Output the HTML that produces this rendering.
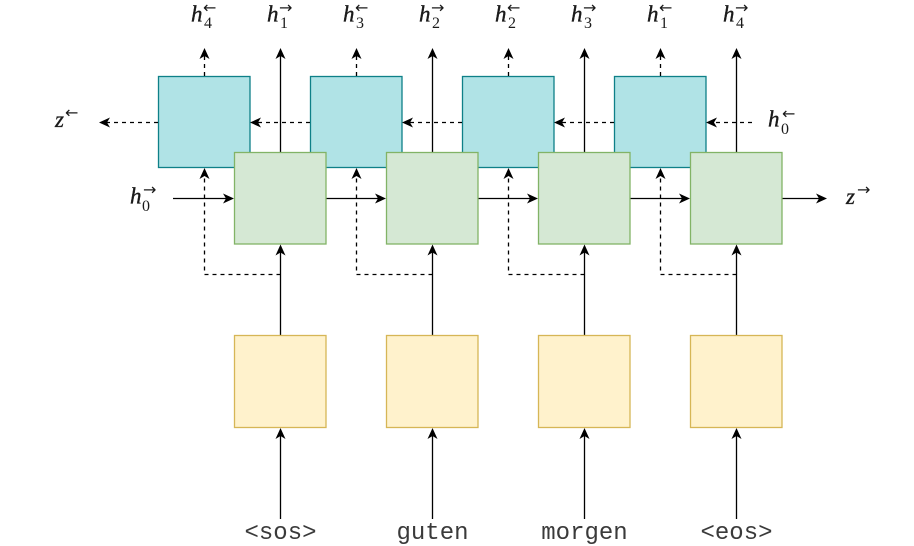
<!DOCTYPE html>
<html>
<head>
<meta charset="utf-8">
<style>
  html, body { margin: 0; padding: 0; background: #ffffff; }
  svg { display: block; }
  .h { font-family: "Liberation Serif", serif; font-style: italic; font-size: 23px; fill: #1a1a1a; stroke: #1a1a1a; stroke-width: 0.35px; }
  .sub { font-family: "Liberation Serif", serif; font-size: 16px; fill: #1a1a1a; }
  .ar { font-family: "DejaVu Sans", sans-serif; font-size: 16px; fill: #1a1a1a; }
  .tok { font-family: "Liberation Mono", monospace; font-size: 24px; fill: #3a3a3a; }
</style>
</head>
<body>
<svg width="914" height="546" viewBox="0 0 914 546" xmlns="http://www.w3.org/2000/svg">
  <!-- Blue boxes -->
  <g fill="#b0e3e6" stroke="#0e8088" stroke-width="1.3">
    <rect x="158.5" y="76.5" width="91.5" height="91"/>
    <rect x="310.5" y="76.5" width="91.5" height="91"/>
    <rect x="462.5" y="76.5" width="91.5" height="91"/>
    <rect x="614.5" y="76.5" width="91.5" height="91"/>
  </g>

  <!-- Blue row dashed horizontal arrows (right to left) -->
  <g stroke="#000" stroke-width="1.3" stroke-dasharray="4 4" fill="none">
    <line x1="158" y1="122.5" x2="107" y2="122.5"/>
    <line x1="310" y1="122.5" x2="258" y2="122.5"/>
    <line x1="462" y1="122.5" x2="410" y2="122.5"/>
    <line x1="614" y1="122.5" x2="562" y2="122.5"/>
    <line x1="752" y1="122.5" x2="714" y2="122.5"/>
  </g>
  <g fill="#000">
    <path d="M99 122.5 L110 117.5 L107 122.5 L110 127.5 Z"/>
    <path d="M250 122.5 L261 117.5 L258 122.5 L261 127.5 Z"/>
    <path d="M402 122.5 L413 117.5 L410 122.5 L413 127.5 Z"/>
    <path d="M554 122.5 L565 117.5 L562 122.5 L565 127.5 Z"/>
    <path d="M706 122.5 L717 117.5 L714 122.5 L717 127.5 Z"/>
  </g>

  <!-- Dashed up arrows from blue tops -->
  <g stroke="#000" stroke-width="1.3" stroke-dasharray="4 4" fill="none">
    <line x1="204.5" y1="76" x2="204.5" y2="56"/>
    <line x1="356.5" y1="76" x2="356.5" y2="56"/>
    <line x1="508.5" y1="76" x2="508.5" y2="56"/>
    <line x1="660.5" y1="76" x2="660.5" y2="56"/>
  </g>
  <g fill="#000">
    <path d="M204.5 48 L199.5 59 L204.5 56 L209.5 59 Z"/>
    <path d="M356.5 48 L351.5 59 L356.5 56 L361.5 59 Z"/>
    <path d="M508.5 48 L503.5 59 L508.5 56 L513.5 59 Z"/>
    <path d="M660.5 48 L655.5 59 L660.5 56 L665.5 59 Z"/>
  </g>

  <!-- Solid up arrows from green tops -->
  <g stroke="#000" stroke-width="1.3" fill="none">
    <line x1="280.5" y1="152" x2="280.5" y2="56"/>
    <line x1="432.5" y1="152" x2="432.5" y2="56"/>
    <line x1="584.5" y1="152" x2="584.5" y2="56"/>
    <line x1="736.5" y1="152" x2="736.5" y2="56"/>
  </g>
  <g fill="#000">
    <path d="M280.5 48 L275.5 59 L280.5 56 L285.5 59 Z"/>
    <path d="M432.5 48 L427.5 59 L432.5 56 L437.5 59 Z"/>
    <path d="M584.5 48 L579.5 59 L584.5 56 L589.5 59 Z"/>
    <path d="M736.5 48 L731.5 59 L736.5 56 L741.5 59 Z"/>
  </g>

  <!-- Dashed feedback paths to blue bottoms -->
  <g stroke="#000" stroke-width="1.3" stroke-dasharray="4 4" fill="none">
    <path d="M280.5 274.5 L204.5 274.5 L204.5 176"/>
    <path d="M432.5 274.5 L356.5 274.5 L356.5 176"/>
    <path d="M584.5 274.5 L508.5 274.5 L508.5 176"/>
    <path d="M736.5 274.5 L660.5 274.5 L660.5 176"/>
  </g>
  <g fill="#000">
    <path d="M204.5 168 L199.5 179 L204.5 176 L209.5 179 Z"/>
    <path d="M356.5 168 L351.5 179 L356.5 176 L361.5 179 Z"/>
    <path d="M508.5 168 L503.5 179 L508.5 176 L513.5 179 Z"/>
    <path d="M660.5 168 L655.5 179 L660.5 176 L665.5 179 Z"/>
  </g>

  <!-- Green row horizontal solid arrows -->
  <g stroke="#000" stroke-width="1.3" fill="none">
    <line x1="173" y1="198.5" x2="226" y2="198.5"/>
    <line x1="326" y1="198.5" x2="378" y2="198.5"/>
    <line x1="478" y1="198.5" x2="530" y2="198.5"/>
    <line x1="630" y1="198.5" x2="682" y2="198.5"/>
    <line x1="782" y1="198.5" x2="819" y2="198.5"/>
  </g>
  <g fill="#000">
    <path d="M234 198.5 L223 193.5 L226 198.5 L223 203.5 Z"/>
    <path d="M386 198.5 L375 193.5 L378 198.5 L375 203.5 Z"/>
    <path d="M538 198.5 L527 193.5 L530 198.5 L527 203.5 Z"/>
    <path d="M690 198.5 L679 193.5 L682 198.5 L679 203.5 Z"/>
    <path d="M827 198.5 L816 193.5 L819 198.5 L816 203.5 Z"/>
  </g>

  <!-- Green boxes -->
  <g fill="#d5e8d4" stroke="#82b366" stroke-width="1.3">
    <rect x="234.5" y="152.5" width="91.5" height="91.5"/>
    <rect x="386.5" y="152.5" width="91.5" height="91.5"/>
    <rect x="538.5" y="152.5" width="91.5" height="91.5"/>
    <rect x="690.5" y="152.5" width="91.5" height="91.5"/>
  </g>

  <!-- Yellow to green arrows -->
  <g stroke="#000" stroke-width="1.3" fill="none">
    <line x1="280.5" y1="336" x2="280.5" y2="252"/>
    <line x1="432.5" y1="336" x2="432.5" y2="252"/>
    <line x1="584.5" y1="336" x2="584.5" y2="252"/>
    <line x1="736.5" y1="336" x2="736.5" y2="252"/>
    <line x1="280.5" y1="519" x2="280.5" y2="436"/>
    <line x1="432.5" y1="519" x2="432.5" y2="436"/>
    <line x1="584.5" y1="519" x2="584.5" y2="436"/>
    <line x1="736.5" y1="519" x2="736.5" y2="436"/>
  </g>
  <g fill="#000">
    <path d="M280.5 244.5 L275.5 255.5 L280.5 252.5 L285.5 255.5 Z"/>
    <path d="M432.5 244.5 L427.5 255.5 L432.5 252.5 L437.5 255.5 Z"/>
    <path d="M584.5 244.5 L579.5 255.5 L584.5 252.5 L589.5 255.5 Z"/>
    <path d="M736.5 244.5 L731.5 255.5 L736.5 252.5 L741.5 255.5 Z"/>
    <path d="M280.5 428 L275.5 439 L280.5 436 L285.5 439 Z"/>
    <path d="M432.5 428 L427.5 439 L432.5 436 L437.5 439 Z"/>
    <path d="M584.5 428 L579.5 439 L584.5 436 L589.5 439 Z"/>
    <path d="M736.5 428 L731.5 439 L736.5 436 L741.5 439 Z"/>
  </g>

  <!-- Yellow boxes -->
  <g fill="#fff2cc" stroke="#d6b656" stroke-width="1.3">
    <rect x="234.5" y="335.5" width="91.5" height="92"/>
    <rect x="386.5" y="335.5" width="91.5" height="92"/>
    <rect x="538.5" y="335.5" width="91.5" height="92"/>
    <rect x="690.5" y="335.5" width="91.5" height="92"/>
  </g>

  <!-- Bottom tokens -->
  <g class="tok" text-anchor="middle">
    <text x="280.5" y="539">&lt;sos&gt;</text>
    <text x="432.5" y="539">guten</text>
    <text x="584.5" y="539">morgen</text>
    <text x="736.5" y="539">&lt;eos&gt;</text>
  </g>

  <!-- Top labels -->
  <g>
    <text class="h" x="191" y="21.5">h</text><text class="sub" x="204" y="28">4</text><text class="ar" x="203" y="13">←</text>
    <text class="h" x="267" y="21.5">h</text><text class="sub" x="280" y="28">1</text><text class="ar" x="279" y="13">→</text>
    <text class="h" x="343" y="21.5">h</text><text class="sub" x="356" y="28">3</text><text class="ar" x="355" y="13">←</text>
    <text class="h" x="419" y="21.5">h</text><text class="sub" x="432" y="28">2</text><text class="ar" x="431" y="13">→</text>
    <text class="h" x="495" y="21.5">h</text><text class="sub" x="508" y="28">2</text><text class="ar" x="507" y="13">←</text>
    <text class="h" x="571" y="21.5">h</text><text class="sub" x="584" y="28">3</text><text class="ar" x="583" y="13">→</text>
    <text class="h" x="647" y="21.5">h</text><text class="sub" x="660" y="28">1</text><text class="ar" x="659" y="13">←</text>
    <text class="h" x="723" y="21.5">h</text><text class="sub" x="736" y="28">4</text><text class="ar" x="735" y="13">→</text>
  </g>

  <!-- Side labels -->
  <text class="h" x="55" y="127">z</text><text class="ar" x="65" y="118">←</text>
  <text class="h" x="130" y="203.5">h</text><text class="sub" x="142" y="211">0</text><text class="ar" x="143" y="195">→</text>
  <text class="h" x="768" y="126.5">h</text><text class="sub" x="781" y="134">0</text><text class="ar" x="782" y="119">←</text>
  <text class="h" x="846" y="204">z</text><text class="ar" x="857" y="195">→</text>
</svg>
</body>
</html>
